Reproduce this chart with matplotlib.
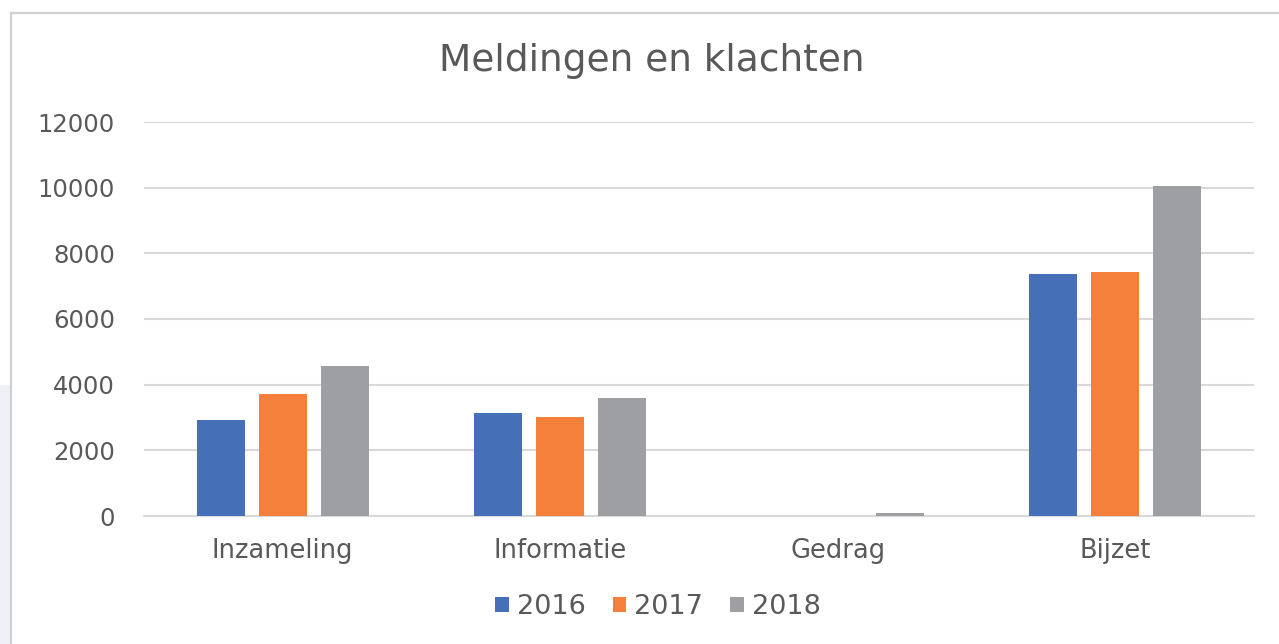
import matplotlib.pyplot as plt
import matplotlib.patches as patches
import numpy as np

categories = ['Inzameling', 'Informatie', 'Gedrag', 'Bijzet']
years = ['2016', '2017', '2018']
v2016 = [2930, 3140, 0, 7370]
v2017 = [3710, 3020, 0, 7430]
v2018 = [4570, 3580, 85, 10060]
yticks = [0, 2000, 4000, 6000, 8000, 10000, 12000]

colors = ['#4570b8', '#f4803c', '#9d9fa3']
txt = '#595959'
grid = '#d9d9d9'

plt.rcParams['font.family'] = ['DejaVu Sans']

fig = plt.figure(figsize=(12.79, 6.44), dpi=100)
ax = fig.add_axes([144 / 1279, 1 - 516 / 644, (1254 - 144) / 1279, (516 - 122) / 644])

# screenshot leftovers: frame line and lavender strip on the left
fig.patches.append(patches.Rectangle((0, 0), 10 / 1279, 1 - 385 / 644, transform=fig.transFigure,
                                     facecolor='#eef0f8', edgecolor='none'))
fig.add_artist(plt.Line2D([11 / 1279, 11 / 1279], [0, 1 - 13 / 644], transform=fig.transFigure,
                          color='#d0d0d0', lw=1.6))
fig.add_artist(plt.Line2D([11 / 1279, 1], [1 - 13 / 644, 1 - 13 / 644], transform=fig.transFigure,
                          color='#d0d0d0', lw=1.6))

x = np.arange(len(categories))
w = 0.173
step = 0.224
for i, vals in enumerate([v2016, v2017, v2018]):
    ax.bar(x + (i - 1) * step, vals, width=w, color=colors[i], label=years[i], zorder=3)

ax.set_xlim(-0.5, len(categories) - 0.5)
ax.set_ylim(0, 12000)
ax.set_yticks(yticks)
ax.set_yticklabels([str(t) for t in yticks])
ax.set_xticks(x)
ax.set_xticklabels(categories)
ax.tick_params(axis='y', length=0, pad=21, labelsize=17.5, labelcolor=txt)
ax.tick_params(axis='x', length=0, pad=16, labelsize=18.5, labelcolor=txt)
ax.grid(axis='y', color=grid, lw=1.5, zorder=0)
for s in ['top', 'right', 'left']:
    ax.spines[s].set_visible(False)
ax.spines['bottom'].set_color(grid)
ax.spines['bottom'].set_linewidth(1.5)

fig.text(652 / 1279, 1 - 61 / 644, 'Meldingen en klachten', ha='center', va='center',
         fontsize=27, color=txt)

fig.legend(*ax.get_legend_handles_labels(), loc='center', bbox_to_anchor=(658 / 1279, 1 - 607 / 644),
           ncol=3, frameon=False, fontsize=19.5, labelcolor=txt, handlelength=0.5, handleheight=0.5,
           handletextpad=0.3, columnspacing=1.0)

fig.savefig('out.png', dpi=100)
